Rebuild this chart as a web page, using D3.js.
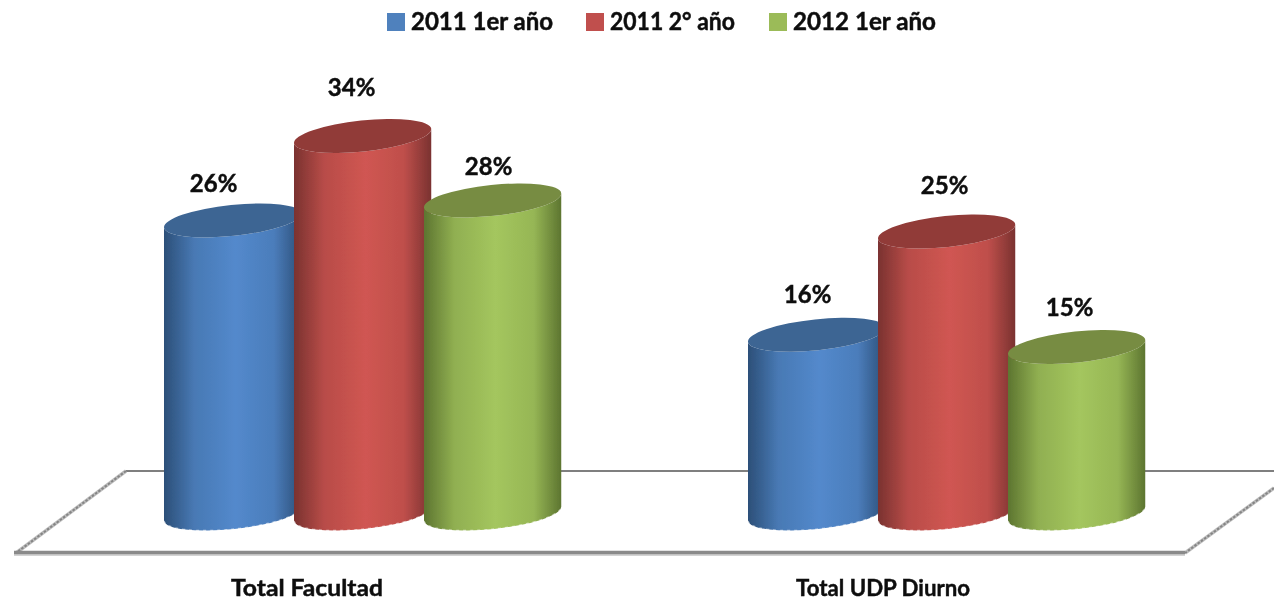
<!DOCTYPE html>
<html>
<head>
<meta charset="utf-8">
<script src="https://cdn.jsdelivr.net/npm/d3@7"></script>
<style>
  html, body { margin: 0; padding: 0; background: #fff; }
  svg { display: block; }
  text { font-family: Lato, "Open Sans", sans-serif; font-weight: 700; fill: #0c0c0c; stroke: #0c0c0c; stroke-width: 0.45px; }
</style>
</head>
<body>
<svg id="chart" width="1274" height="602"></svg>
<script>
const categories = ["Total Facultad", "Total UDP Diurno"];
const series = ["2011 1er año", "2011 2° año", "2012 1er año"];
const facultad = [26.4, 34, 28.2];
const udpDiurno = [16.1, 25.4, 15];
const seriesValues = [facultad, udpDiurno];

// side, centre and top-face colour of each series
const colors = ["#4f81bd", "#c0504d", "#9bbb59"];
const sideDark = ["#2c4f78", "#7a3230", "#5d7530"];
const midLight = ["#5389cc", "#d05652", "#a4c65e"];
const topFace = ["#3d6593", "#913a38", "#778c42"];

const W = 1274, H = 602;
const svg = d3.select("#chart");
const defs = svg.append("defs");

defs.append("filter").attr("id", "soft")
  .append("feGaussianBlur").attr("stdDeviation", 0.55);

series.forEach((s, i) => {
  const grad = defs.append("linearGradient").attr("id", "cyl-" + i)
    .attr("x1", 0).attr("x2", 1).attr("y1", 0).attr("y2", 0);
  grad.append("stop").attr("offset", "0%").attr("stop-color", sideDark[i]);
  grad.append("stop").attr("offset", "22%").attr("stop-color", d3.interpolateRgb(sideDark[i], midLight[i])(0.72));
  grad.append("stop").attr("offset", "52%").attr("stop-color", midLight[i]);
  grad.append("stop").attr("offset", "80%").attr("stop-color", d3.interpolateRgb(sideDark[i], midLight[i])(0.8));
  grad.append("stop").attr("offset", "100%").attr("stop-color", sideDark[i]);
});

// scales
const y = d3.scaleLinear().domain([0, 34]).range([513.6, 136]);
const x0 = d3.scalePoint().domain(categories).range([164, 748]);
const x1 = d3.scalePoint().domain(series).range([0, 260]);

// cylinder shape
const rx = 69, ry = 15.5, tiltDeg = -6;
const dx = rx * Math.cos(tiltDeg * Math.PI / 180);
const dy = rx * Math.sin(tiltDeg * Math.PI / 180);

function bodyPath(cx, top, base) {
  return `M${cx - dx},${top - dy} L${cx - dx},${base - dy}` +
    ` A${rx},${ry} ${tiltDeg} 0 0 ${cx + dx},${base + dy}` +
    ` L${cx + dx},${top + dy} A${rx},${ry} ${tiltDeg} 0 1 ${cx - dx},${top - dy} Z`;
}
function bottomArc(cx, base) {
  return `M${cx - dx},${base - dy} A${rx},${ry} ${tiltDeg} 0 0 ${cx + dx},${base + dy}`;
}

// floor
const floor = svg.append("g").attr("class", "floor");
const lineGen = d3.line();
floor.append("path").attr("d", lineGen([[126, 471], [1274, 471]]))
  .attr("stroke", "#7f7f7f").attr("stroke-width", 2).attr("fill", "none");
floor.append("path").attr("d", lineGen([[126, 471], [16, 553]]))
  .attr("stroke", "#bdbdbd").attr("stroke-width", 3.5).attr("fill", "none");
floor.append("path").attr("d", lineGen([[126, 471], [16, 553]]))
  .attr("stroke", "#858585").attr("stroke-width", 2).attr("stroke-dasharray", "2.5 1.5").attr("fill", "none");
floor.append("path").attr("d", lineGen([[1274, 488], [1185, 553]]))
  .attr("stroke", "#bdbdbd").attr("stroke-width", 3.5).attr("fill", "none");
floor.append("path").attr("d", lineGen([[1274, 488], [1185, 553]]))
  .attr("stroke", "#858585").attr("stroke-width", 2).attr("stroke-dasharray", "2.5 1.5").attr("fill", "none");
floor.append("path").attr("d", lineGen([[14, 555], [1185, 555]]))
  .attr("stroke", "#c4c4c4").attr("stroke-width", 1.5).attr("fill", "none");
floor.append("path").attr("d", lineGen([[14, 552.5], [1185, 552.5]]))
  .attr("stroke", "#8a8a8a").attr("stroke-width", 3.5).attr("fill", "none");

// cylinders
const flat = [];
categories.forEach((c, ci) => series.forEach((s, si) => {
  flat.push({ cat: c, ser: s, si, value: seriesValues[ci][si] });
}));

const cyl = svg.append("g").selectAll("g").data(flat).join("g")
  .attr("filter", "url(#soft)");

const cxOf = d => x0(d.cat) + x1(d.ser) + dx;

cyl.append("path")
  .attr("d", d => bodyPath(cxOf(d), y(d.value), y(0)))
  .attr("fill", d => `url(#cyl-${d.si})`);
cyl.append("path")
  .attr("d", d => bottomArc(cxOf(d), y(0)))
  .attr("fill", "none").attr("stroke", "#fff").attr("stroke-opacity", 0.55)
  .attr("stroke-width", 1.5).attr("stroke-dasharray", "3 4");
cyl.append("ellipse")
  .attr("cx", 0).attr("cy", 0).attr("rx", rx).attr("ry", ry)
  .attr("transform", d => `translate(${cxOf(d)},${y(d.value)}) rotate(${tiltDeg})`)
  .attr("fill", d => topFace[d.si]);

// value labels
const labelDx = [-19, -11, -4, -9, -2, -7];
const labelDy = [-36, -48, -33, -40, -46, -39];
svg.append("g").attr("filter", "url(#soft)")
  .selectAll("text").data(flat).join("text")
  .attr("x", (d, i) => cxOf(d) + labelDx[i])
  .attr("y", (d, i) => y(d.value) + labelDy[i] + 8)
  .attr("text-anchor", "middle")
  .attr("font-size", 24)
  .text(d => Math.round(d.value) + "%");

// category labels
const categoryLabelX = [231, 796];
const categoryLabelLen = [152, 174];
svg.append("g").attr("filter", "url(#soft)")
  .selectAll("text").data(categories).join("text")
  .attr("x", (c, i) => categoryLabelX[i])
  .attr("y", 596)
  .attr("font-size", 23.5)
  .attr("textLength", (c, i) => categoryLabelLen[i])
  .attr("lengthAdjust", "spacingAndGlyphs")
  .text(c => c);

// legend
const legendX = [387, 586, 769];
const legendLen = [142, 125, 143];
const legend = svg.append("g").attr("filter", "url(#soft)")
  .selectAll("g").data(series).join("g")
  .attr("transform", (s, i) => `translate(${legendX[i]},13)`);
legend.append("rect").attr("width", 18).attr("height", 18)
  .attr("fill", (s, i) => colors[i]);
legend.append("text").attr("x", 24).attr("y", 17)
  .attr("font-size", 24)
  .attr("textLength", (s, i) => legendLen[i])
  .attr("lengthAdjust", "spacingAndGlyphs")
  .text(s => s);
</script>
</body>
</html>
